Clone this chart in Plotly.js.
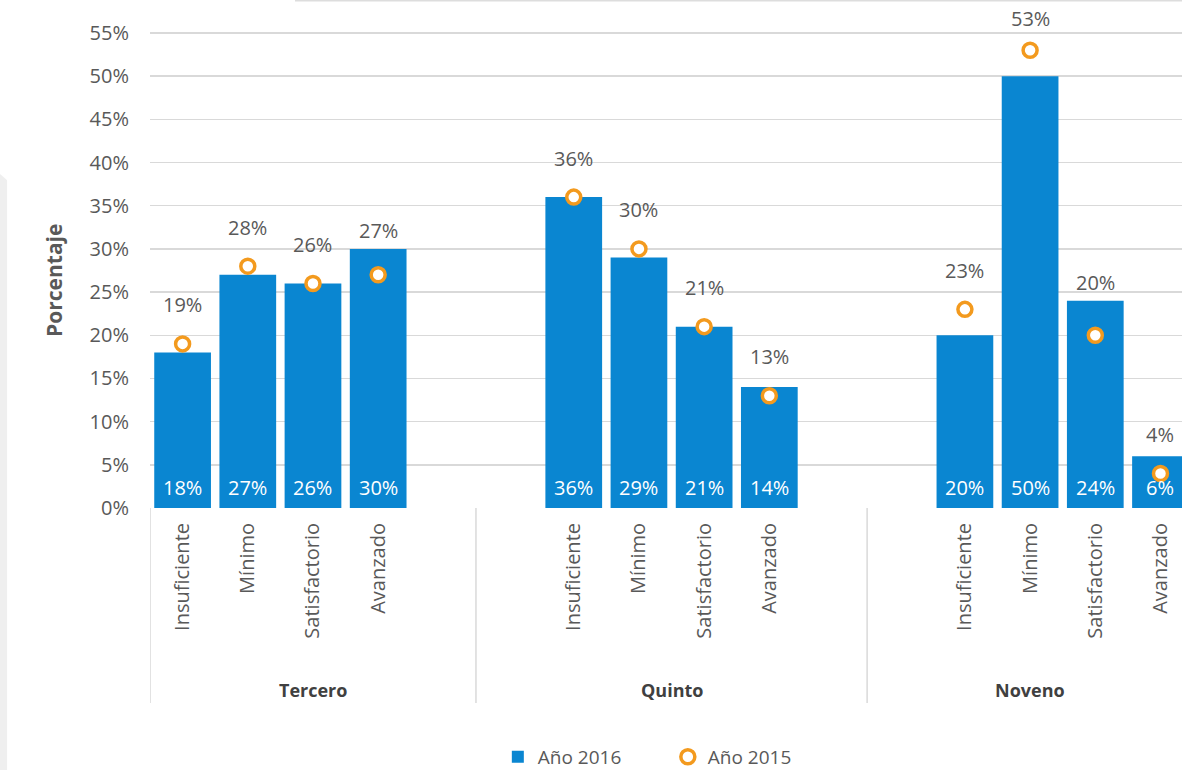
<!DOCTYPE html>
<html>
<head>
<meta charset="utf-8">
<script src="https://cdn.plot.ly/plotly-3.0.1.min.js"></script>
<style>html,body{margin:0;padding:0;background:#fff;}#chart{width:1182px;height:770px;}</style>
</head>
<body>
<div id="chart"></div>
<script>
const groups = ["Tercero", "Quinto", "Noveno"];
const levels = ["Insuficiente", "Mínimo", "Satisfactorio", "Avanzado"];
const values2016 = [18, 27, 26, 30, 36, 29, 21, 14, 20, 50, 24, 6];
const values2015 = [19, 28, 26, 27, 36, 30, 21, 13, 23, 53, 20, 4];
const groupLabelPos = [2, 7.5, 13];
const separators = [-0.5, 4.5, 10.5];

const GROUP_STRIDE = 6;
const xs = [], tickText = [];
groups.forEach((g, gi) => levels.forEach((l, li) => { xs.push(gi * GROUP_STRIDE + li); tickText.push(l); }));

const FONT = "'Open Sans', Lato, sans-serif";
const GRAY = "#595959";
const BLUE = "#0a86d1";
const ORANGE = "#f39a1e";

const PLOT_H = 508, Y_MAX = 0.5882;
const PX_PER_PCT = PLOT_H / (Y_MAX * 100);

const traces = [
  {
    type: "bar", name: "Año 2016", x: xs, y: values2016.map(v => v / 100),
    marker: {color: BLUE}, width: 0.87, hoverinfo: "skip"
  },
  {
    type: "scatter", mode: "markers", name: "Año 2015", x: xs, y: values2015.map(v => v / 100),
    marker: {symbol: "circle", size: 14, color: "#ffffff", line: {color: ORANGE, width: 3.5}},
    hoverinfo: "skip"
  }
];

const annotations = [];
xs.forEach((x, i) => {
  let above = Math.max(values2015[i] * PX_PER_PCT + 39, values2016[i] * PX_PER_PCT + 18);
  above = Math.min(above, PLOT_H - 18);
  annotations.push({x: x, y: 0, xref: "x", yref: "y", text: values2015[i] + "%",
    showarrow: false, yshift: above, yanchor: "middle", font: {family: FONT, size: 20, color: GRAY}});
  annotations.push({x: x, y: 0, xref: "x", yref: "y", text: values2016[i] + "%",
    showarrow: false, yshift: 21, yanchor: "middle", font: {family: FONT, size: 20, color: "#ffffff"}});
});
groups.forEach((g, gi) => {
  annotations.push({x: groupLabelPos[gi], y: -0.358, xref: "x", yref: "paper", text: "<b>" + g + "</b>",
    showarrow: false, yanchor: "middle", font: {family: FONT, size: 18, color: "#404040"}});
});
annotations.push({x: -0.1085, y: 0.447, xref: "paper", yref: "paper", text: "<b>Porcentaje</b>",
  textangle: -90, showarrow: false, font: {family: FONT, size: 21, color: GRAY}});

const shapes = separators.map(s => ({type: "line", xref: "x", yref: "paper", x0: s, x1: s, y0: 0, y1: -0.384,
  line: {color: "#d9d9d9", width: 1.5}}));
// background panel edges from the source image
shapes.push({type: "path", xref: "paper", yref: "paper",
  path: "M -0.1453 0.6575 L -0.1385 0.645 L -0.1385 -0.52 L -0.1453 -0.52 Z",
  fillcolor: "#efefef", line: {width: 0}, layer: "below"});
shapes.push({type: "line", xref: "paper", yref: "paper", x0: 0.1405, x1: 1.0, y0: 0.999, y1: 0.999,
  line: {color: "#dddddd", width: 2}});

const layout = {
  width: 1182, height: 770,
  margin: {l: 150, r: 0, t: 0, b: 262, autoexpand: false},
  paper_bgcolor: "#ffffff", plot_bgcolor: "#ffffff",
  showlegend: true,
  legend: {orientation: "h", yref: "container", xref: "container", x: 0.565, xanchor: "center",
    y: 0.017, yanchor: "middle", entrywidth: 125,
    font: {family: FONT, size: 19, color: GRAY}},
  xaxis: {range: [-0.5, 15.33], tickvals: xs, ticktext: tickText, tickangle: -90,
    showgrid: false, zeroline: false, showline: false, ticks: "", ticklabelstandoff: 10, automargin: false,
    tickfont: {family: FONT, size: 20, color: GRAY}, fixedrange: true},
  yaxis: {range: [0, Y_MAX], tickvals: [0,0.05,0.1,0.15,0.2,0.25,0.3,0.35,0.4,0.45,0.5,0.55],
    tickformat: ".0%", showgrid: true, gridcolor: "#d9d9d9", gridwidth: 1.5, zeroline: false,
    showline: false, ticks: "", ticklabelstandoff: 20, automargin: false,
    tickfont: {family: FONT, size: 20, color: GRAY}, fixedrange: true},
  annotations: annotations,
  shapes: shapes
};

Plotly.newPlot("chart", traces, layout, {displayModeBar: false, staticPlot: true});
</script>
</body>
</html>
